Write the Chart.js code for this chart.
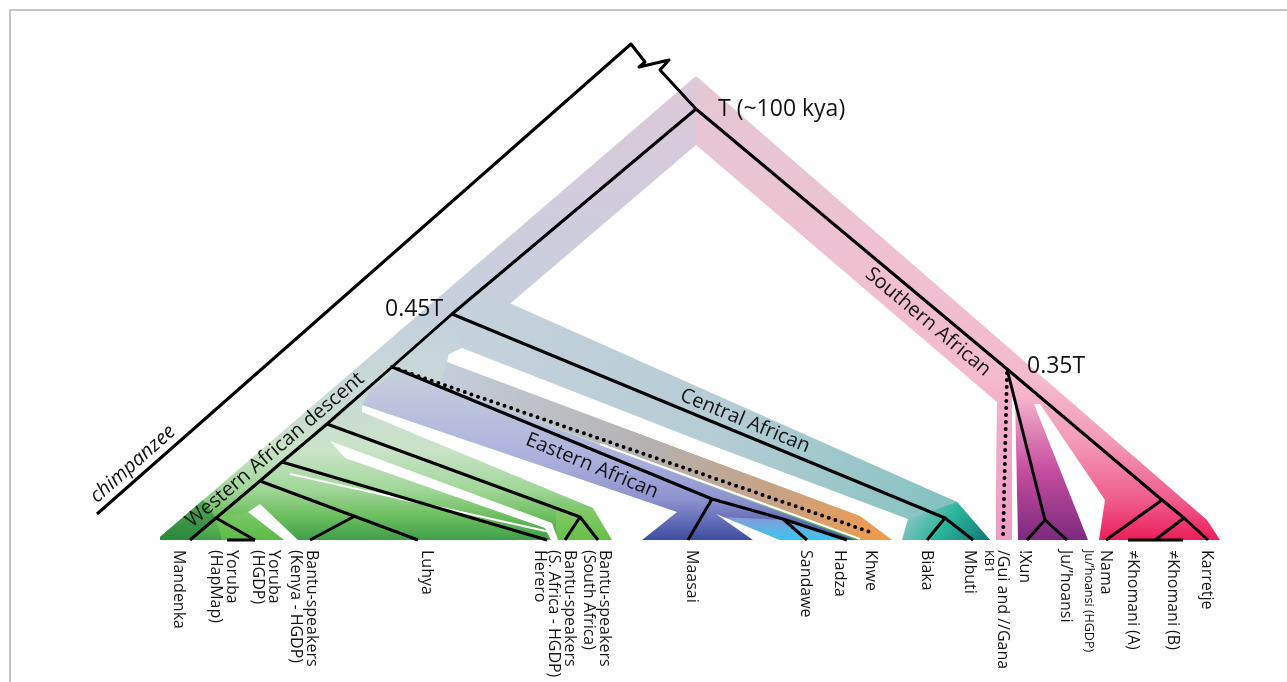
<!DOCTYPE html>
<html><head><meta charset="utf-8">
<script src="https://cdn.jsdelivr.net/npm/chart.js@4.4.1/dist/chart.umd.min.js"></script>
<style>html,body{margin:0;padding:0;background:#fff;}#wrap{width:1287px;height:682px;}</style>
</head><body><div id="wrap"><canvas id="c" width="1287" height="682"></canvas></div>
<script>
// ===== DATA (layout units: x across, y downward; tips sit on y = 540) =====
const frameEdge = [[10,682],[10,10],[1287,10]];

// tree branches (solid)
const branchChimp = [[97,514],[631,44],[645,62],[639,67],[669,60],[660,70],[696,109]];
const branchSouthern = [[696,109],[1007,369],[1162,500],[1184,518],[1208,540]];
const branchNama = [[1162,500],[1106,540]];
const branchKhomani = [[1184,518],[1155,540]];
const branchKhomaniBase = [[1128,540],[1183,540]];
const branchXun = [[1007,369],[1045,520],[1027,540]];
const branchJu = [[1045,520],[1067,540]];
const branchWestMain = [[696,109],[452,314],[392,367],[327,424],[282,462],[260,481],[216,518],[190,540]];
const branchCentral = [[452,314],[945,518],[927,540]];
const branchMbuti = [[945,518],[973,540]];
const branchEastern = [[392,367],[712,499],[783,519],[847,540]];
const branchMaasai = [[712,499],[688,540]];
const branchSandawe = [[783,519],[807,540]];
const branchBantuSA = [[327,424],[580,517],[565,540]];
const branchBantuSA2 = [[580,517],[598,540]];
const branchHerero = [[282,462],[547,540]];
const branchLuhya = [[260,481],[418,540]];
const branchKenya = [[355,516],[310,540]];
const branchYoruba = [[216,518],[255,540]];
const branchYorubaBase = [[227,540],[255,540]];
// tree branches (dotted)
const dottedGui = [[1007,373],[1003,540]];
const dottedKhwe = [[392,367],[870,532]];

// coloured lineage bands
const bandLeft = [[696,76],[160,537],[160,540],[990,540],[957,502],[505,308],[696,145]];
const bandMandenka = [[160,537],[203,500],[216,518],[190,540],[160,540]];
const bandYoruba = [[216,518],[248,512],[284,540],[222,540]];
const bandBantuSA = [[556,506],[593,508],[612,540],[556,540]];
const bandRight = [[696,76],[1207,520],[1220,540],[996,540],[997,402],[696,145]];
const bandCentral = [[480,290],[957,502],[990,540],[902,540],[908,519],[700,441],[462,348],[452,325]];
const bandCentralTip = [[908,519],[957,502],[990,540],[902,540]];
const bandKhwe = [[447,362],[860,516],[892,540],[862,540],[440,385]];
const bandEastern = [[395,372],[440,385],[855,540],[642,540],[677,512],[362,405],[370,390]];
const bandHadza = [[722,517],[783,520],[847,540],[780,540]];
const bandGui = [[997,402],[1012,398],[1012,540],[996,540]];
const bandXun = [[1015,400],[1035,403],[1088,540],[1018,540]];
// white gaps between bands
const gapCentral = [[462,348],[700,441],[908,519],[902,540],[892,540],[860,516],[447,362],[449,354]];
const gapEastern = [[362,405],[677,512],[642,540],[612,540],[593,508],[362,412]];
const gapHerero = [[330,441],[552,523],[558,540],[551,540],[545,528],[345,458]];
const gapYoruba = [[248,512],[260,504],[298,540],[284,540]];
const gapMaasai = [[716,514],[753,540],[780,540]];
const gapGui = [[1012,398],[1015,398],[1018,540],[1012,540]];
const gapKhomani = [[1034,404],[1040,404],[1105,500],[1099,540],[1088,540]];
const seamLuhya = [[290,474],[550,532]];
const seamKhwe = [[600,444],[860,539]];

// text
const leafNames = [["Mandenka"],["Yoruba","(HapMap)"],["Yoruba","(HGDP)"],["Bantu-speakers","(Kenya - HGDP)"],["Luhya"],["Herero"],["Bantu-speakers","(S. Africa - HGDP)"],["Bantu-speakers","(South Africa)"],["Maasai"],["Sandawe"],["Hadza"],["Khwe"],["Biaka"],["Mbuti"],["/Gui and //Gana"],["!Xun"],["Ju/’hoansi"],["Nama"],["≠Khomani (A)"],["≠Khomani (B)"],["Karretje"]];
const leafLabelX = [179,232,274,312,427,540,570,605,692,806,840,871,927,970,1003,1025,1066,1106,1133,1173,1207];
const smallNames = ["KB1","Ju/’hoansi (HGDP)"];
const smallLabelX = [989,1089];
const labelTop = 550;
const nodeLabels = ["T (~100 kya)","0.45T","0.35T"];
const nodeLabelX = [718,385,1027];
const nodeLabelY = [109,309,366];
const cladeLabels = ["Southern African","Central African","Eastern African","Western African descent","chimpanzee"];
const cladeX = [928,745,592,275,133];
const cladeY = [322,421,466,450,464];
const cladeAngle = [40,22.5,22.5,-40.5,-41.5];

// ===== STYLES =====
function P(a){return a.map(p=>({x:p[0],y:p[1]}));}
function grad(x0,y0,x1,y1,stops){
  return function(ctx){
    const ch=ctx.chart; if(!ch.chartArea) return stops[0][1];
    const X=ch.scales.x,Y=ch.scales.y;
    const g=ch.ctx.createLinearGradient(X.getPixelForValue(x0),Y.getPixelForValue(y0),X.getPixelForValue(x1),Y.getPixelForValue(y1));
    stops.forEach(s=>g.addColorStop(s[0],s[1]));
    return g;
  };
}
function vgrad(y0,y1,stops){
  return grad(0,y0,0,y1,stops.map(s=>[(s[0]-y0)/(y1-y0),s[1]]));
}
const layers = [
  [bandLeft, vgrad(76,540,[[76,'#ddc9d8'],[200,'#d1ccdc'],[320,'#c5d1dc'],[400,'#c9dbd6'],[450,'#c9e3c7'],[490,'#a0d698'],[515,'#6ec060'],[540,'#409f49']])],
  [bandMandenka, vgrad(500,540,[[500,'#4ea650'],[540,'#2a883c']])],
  [bandYoruba, vgrad(512,540,[[512,'#7cc86a'],[540,'#5bbb45']])],
  [bandBantuSA, vgrad(505,540,[[505,'#86cc6c'],[540,'#66bf48']])],
  [bandRight, vgrad(76,540,[[76,'#e4c8d3'],[250,'#eec1d1'],[380,'#f5bace'],[440,'#f39cba'],[500,'#ef5c8c'],[540,'#ec1d5c']])],
  [bandCentral, grad(470,320,960,520,[[0,'#c6d2db'],[0.55,'#b3ccd3'],[0.85,'#92c5c6'],[1,'#7fc0bf']])],
  [bandCentralTip, grad(925,500,980,545,[[0,'#80c4c0'],[0.45,'#2ab59a'],[1,'#147b7d']])],
  [bandKhwe, grad(440,0,890,0,[[0,'#c4cedb'],[0.45,'#b5b2b3'],[0.75,'#c7a283'],[1,'#f39a48']])],
  [bandEastern, vgrad(380,540,[[380,'#c3cddd'],[460,'#abb0dc'],[500,'#8d91cf'],[540,'#3c4da0']])],
  [bandHadza, vgrad(515,540,[[515,'#8f97d3'],[540,'#3ac5f0']])],
  [bandGui, vgrad(400,540,[[400,'#f3b0cb'],[540,'#ef9dc3']])],
  [bandXun, vgrad(400,540,[[400,'#f3aeca'],[470,'#c54e9f'],[540,'#7c2a80']])],
  [gapCentral,'#ffffff'],[gapEastern,'#ffffff'],[gapHerero,'#ffffff'],[gapYoruba,'#ffffff'],
  [gapMaasai,'#ffffff'],[gapGui,'#ffffff'],[gapKhomani,'#ffffff']
];
const seams = [seamLuhya, seamKhwe];
const solids = [branchChimp,branchSouthern,branchNama,branchKhomani,branchKhomaniBase,branchXun,branchJu,branchWestMain,branchCentral,branchMbuti,branchEastern,branchMaasai,branchSandawe,branchBantuSA,branchBantuSA2,branchHerero,branchLuhya,branchKenya,branchYoruba,branchYorubaBase];
const dotted = [dottedGui, dottedKhwe];

const datasets = [];
function push(ds){datasets.push(Object.assign({showLine:true,pointRadius:0,pointHoverRadius:0,tension:0,clip:false,spanGaps:true},ds));}
layers.forEach(l=>push({data:P(l[0]),fill:'shape',backgroundColor:l[1],borderColor:'rgba(0,0,0,0)',borderWidth:0}));
seams.forEach(s=>push({data:P(s),fill:false,borderColor:'#ffffff',borderWidth:2}));
push({data:P(frameEdge),fill:false,borderColor:'#c6c6c6',borderWidth:2});
solids.forEach(s=>push({data:P(s),fill:false,borderColor:'#000',borderWidth:3,borderJoinStyle:'round',borderCapStyle:'butt'}));
dotted.forEach(s=>push({data:P(s),fill:false,borderColor:'#000',borderWidth:4,borderDash:[0,7],borderCapStyle:'round'}));
const N = datasets.length;
datasets.forEach((d,i)=>{d.order = N - i;});

const textPlugin = {
  id:'treeText',
  afterDatasetsDraw(chart){
    const c=chart.ctx,X=chart.scales.x,Y=chart.scales.y;
    c.save();
    c.fillStyle='#141414';
    c.textAlign='left'; c.textBaseline='middle';
    c.font='16px "Open Sans"';
    leafNames.forEach((lines,i)=>{
      c.save();
      c.translate(X.getPixelForValue(leafLabelX[i]),Y.getPixelForValue(labelTop));
      c.rotate(Math.PI/2);
      lines.forEach((t,j)=>c.fillText(t,0,j*16));
      c.restore();
    });
    c.font='12.5px "Open Sans"';
    smallNames.forEach((t,i)=>{
      c.save();
      c.translate(X.getPixelForValue(smallLabelX[i]),Y.getPixelForValue(labelTop));
      c.rotate(Math.PI/2);
      c.fillText(t,0,0);
      c.restore();
    });
    c.font='23px "Open Sans"';
    nodeLabels.forEach((t,i)=>c.fillText(t,X.getPixelForValue(nodeLabelX[i]),Y.getPixelForValue(nodeLabelY[i])));
    c.textAlign='center';
    cladeLabels.forEach((t,i)=>{
      c.save();
      c.font=(t==='chimpanzee'?'italic ':'')+'20px "Open Sans"';
      c.translate(X.getPixelForValue(cladeX[i]),Y.getPixelForValue(cladeY[i]));
      c.rotate(cladeAngle[i]*Math.PI/180);
      c.fillText(t,0,0);
      c.restore();
    });
    c.restore();
  }
};

new Chart(document.getElementById('c'),{
  type:'scatter',
  data:{datasets},
  options:{
    responsive:false, animation:false, devicePixelRatio:1,
    layout:{padding:0},
    plugins:{legend:{display:false},tooltip:{enabled:false}},
    scales:{
      x:{type:'linear',min:0,max:1287,display:false},
      y:{type:'linear',min:0,max:682,reverse:true,display:false}
    },
    elements:{point:{radius:0}}
  },
  plugins:[textPlugin]
});
</script></body></html>
